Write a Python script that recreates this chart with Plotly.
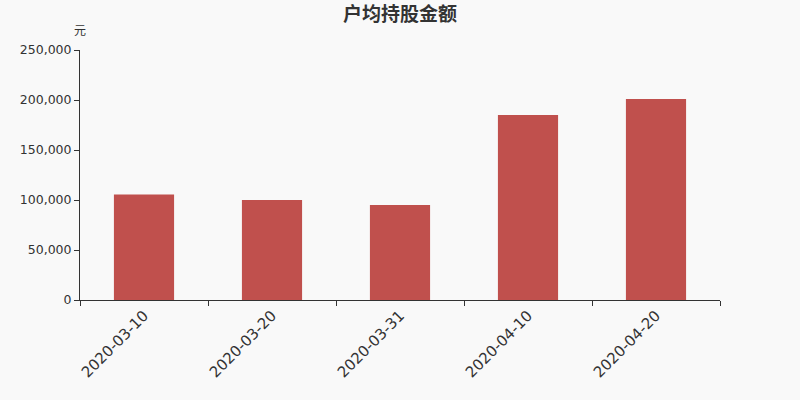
import plotly.graph_objects as go

dates = ["2020-03-10", "2020-03-20", "2020-03-31", "2020-04-10", "2020-04-20"]
amount = [105500, 100000, 95000, 185000, 201000]
y_ticks = [0, 50000, 100000, 150000, 200000, 250000]

fig = go.Figure()
fig.add_trace(go.Bar(x=dates, y=amount, marker_color="#c0504d", marker_line_width=0))

fig.update_layout(
    width=800, height=400,
    margin=dict(l=80, r=80, t=50, b=100, autoexpand=False),
    paper_bgcolor="#f9f9f9", plot_bgcolor="#f9f9f9",
    bargap=0.53,
    showlegend=False,
    font=dict(family="DejaVu Sans", color="#333333"),
    title=dict(text="<b>户均持股金额</b>", x=0.5, xanchor="center", xref="paper",
               y=0.965, yref="container", yanchor="middle",
               font=dict(size=19, family="Noto Sans CJK SC", color="#333333")),
    annotations=[dict(text="元", xref="paper", yref="paper", x=0, y=1.038,
                      xanchor="center", yanchor="bottom", showarrow=False,
                      font=dict(size=12, family="Noto Sans CJK SC", color="#333333"))],
)
fig.update_xaxes(type="category", showline=True, linecolor="#333333", linewidth=1,
                 ticks="outside", ticklen=5, tickcolor="#333333", tickson="boundaries",
                 tickangle=-45, tickfont=dict(size=15), showgrid=False, automargin=False)
fig.update_yaxes(range=[0, 250000], tickvals=y_ticks, tickformat=",", showline=True,
                 linecolor="#333333", linewidth=1, ticks="outside", ticklen=5,
                 tickcolor="#333333", tickfont=dict(size=12.5), showgrid=False,
                 zeroline=False, automargin=False)

# page body has a default 8px margin, drop it so the figure sits at the corner
fig.write_html("out.html", config={"displayModeBar": False},
               post_script="document.body.style.margin='0';")
